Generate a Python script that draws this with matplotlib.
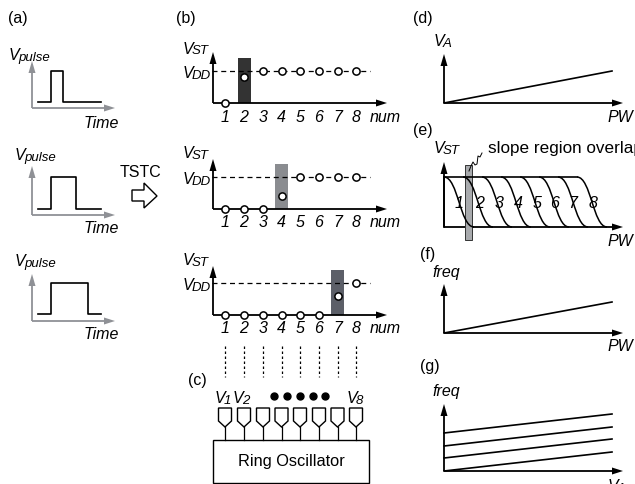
import matplotlib
matplotlib.use('Agg')
import matplotlib.pyplot as plt
from matplotlib.patches import Polygon, Rectangle, PathPatch
from matplotlib.path import Path

plt.rcParams['font.family'] = ['Liberation Sans', 'DejaVu Sans']

# (a) pulses, all in pixel coordinates of the picture
pulse_fall = [63, 76, 88]
pulse_top = [72, 178, 284]
pulse_base = [103, 210, 315]
pulse_axis_y = [109, 216, 322]
pulse_axis_tip = [62, 167, 275]
pulse_label_pos = [(9, 56), (15, 156), (15, 262)]
time_label_y = [123, 229, 335]

# (b) state plots
num_labels = ['1', '2', '3', '4', '5', '6', '7', '8']
num_x = [225, 244, 263, 281.5, 300, 319, 337.5, 356]
st_base = [104, 210, 316]
st_vdd = [72, 178, 284]
st_tip = [53, 160, 267]
st_label_y = [49, 154, 261]
st_active = [1, 3, 6]
st_bar_top = [59, 165, 271]
st_bar_color = ['#333333', '#8a8c90', '#5c5f68']
st_active_y = [78, 197, 297]

# (c)
dots_x = [274, 287, 300, 313, 325]

# (d) (f) (g) lines
line_d = [(444, 104), (612, 72)]
line_f = [(444, 334), (612, 303)]
g_start = [472, 459, 447, 434]
g_end = [453, 440, 428, 415]

# (e) curves
curve_start = [444, 463, 482, 501, 520, 539, 558, 577]
curve_num_x = [459, 480, 499, 518, 537, 555, 573, 593]
squiggle_x = [469, 471, 473, 475, 477, 478, 480, 482]
squiggle_y = [172, 167, 163, 166, 165, 157, 158, 154]

fig = plt.figure(figsize=(6.35, 4.85), dpi=100)
ax = fig.add_axes([0, 0, 1, 1])
ax.set_xlim(0, 635)
ax.set_ylim(485, 0)
ax.axis('off')


def arrow_axes(x0, y0, xtip, ytip, color='k'):
    ax.plot([x0, x0], [y0, ytip + 6], color=color, lw=1.3, solid_capstyle='butt')
    ax.plot([x0, xtip - 8], [y0, y0], color=color, lw=1.3, solid_capstyle='butt')
    ax.add_patch(Polygon([(x0 - 3.5, ytip + 12), (x0, ytip), (x0 + 3.5, ytip + 12)], fc=color, ec='none'))
    ax.add_patch(Polygon([(xtip - 11, y0 - 3.5), (xtip, y0), (xtip - 11, y0 + 3.5)], fc=color, ec='none'))


def sub_label(x, y, main, sub, gap):
    ax.text(x, y, main, style='italic', fontsize=11.5, va='center', ha='left')
    ax.text(x + gap, y + 2, sub, style='italic', fontsize=9.5, va='center', ha='left')


for name, x, y in [('(a)', 8, 18), ('(b)', 176, 18), ('(d)', 413, 18), ('(e)', 413, 131),
                   ('(f)', 420, 255), ('(g)', 420, 367), ('(c)', 188, 381)]:
    ax.text(x, y, name, fontsize=11.5, va='center', ha='left')

# (a)
for i in range(3):
    arrow_axes(32, pulse_axis_y[i], 115, pulse_axis_tip[i], color='#8f9196')
    ax.plot([38, 51, 51, pulse_fall[i], pulse_fall[i], 101],
            [pulse_base[i], pulse_base[i], pulse_top[i], pulse_top[i], pulse_base[i], pulse_base[i]],
            color='k', lw=1.2)
    sub_label(pulse_label_pos[i][0], pulse_label_pos[i][1], 'V', 'pulse', 9)
    ax.text(84, time_label_y[i], 'Time', style='italic', fontsize=11.5, va='center', ha='left')

ax.text(141, 173, 'TSTC', fontsize=11.5, va='center', ha='center')
ax.add_patch(Polygon([(132, 191), (144, 191), (144, 184), (157, 197), (144, 209), (144, 202), (132, 202)],
                     fc='white', ec='k', lw=1))

# (b)
for i in range(3):
    active = st_active[i]
    bar_x = num_x[active]
    ax.add_patch(Rectangle((bar_x - 6.5, st_bar_top[i]), 13, st_base[i] - st_bar_top[i],
                           fc=st_bar_color[i], ec='none', zorder=1))
    ax.plot([212, 370], [st_vdd[i], st_vdd[i]], color='k', lw=0.9, dashes=(4, 3), zorder=2)
    arrow_axes(213, st_base[i], 387, st_tip[i])
    for j in range(8):
        if j < active:
            y = st_base[i]
        elif j == active:
            y = st_active_y[i]
        else:
            y = st_vdd[i]
        ax.plot(num_x[j], y, 'o', ms=5.2, mfc='white', mec='k', mew=1.1, zorder=4)
        ax.text(num_x[j], st_base[i] + 13, num_labels[j], style='italic', fontsize=11.5,
                va='center', ha='center')
    ax.text(370, st_base[i] + 13, 'num', style='italic', fontsize=11.5, va='center', ha='left')
    sub_label(183, st_label_y[i], 'V', 'ST', 9)
    sub_label(183, st_vdd[i] + 2, 'V', 'DD', 9)

# (c)
for x in num_x:
    ax.plot([x, x], [347, 378], color='k', lw=0.9, dashes=(2, 2))
    ax.add_patch(Polygon([(x - 6.5, 409), (x + 6.5, 409), (x + 6.5, 422), (x, 428), (x - 6.5, 422)],
                         fc='white', ec='k', lw=1))
    ax.plot([x, x], [428, 441], color='k', lw=0.9)
ax.add_patch(Rectangle((213, 441), 156, 43, fc='white', ec='k', lw=1))
ax.text(291, 462, 'Ring Oscillator', fontsize=11.8, va='center', ha='center')
sub_label(215, 399, 'V', '1', 9)
sub_label(233, 399, 'V', '2', 9)
sub_label(347, 399, 'V', '8', 9)
ax.plot(dots_x, [397] * len(dots_x), 'o', ms=5, color='k', ls='none')

# (d)
arrow_axes(444, 104, 623, 55)
ax.plot(*zip(*line_d), color='k', lw=1.2)
sub_label(434, 42, 'V', 'A', 9)
ax.text(607, 117, 'PW', style='italic', fontsize=11.5, va='center', ha='left')

# (e)
ax.add_patch(Rectangle((465, 166), 7, 75, fc='#a8aaad', ec='#333333', lw=0.7, zorder=3))
ax.plot([444, curve_start[-1]], [178, 178], color='k', lw=1.2, zorder=4)
for i, x0 in enumerate(curve_start):
    curve = Path([(x0, 178), (x0 + 14, 178), (x0 + 16, 228), (x0 + 30, 228)],
                 [Path.MOVETO, Path.CURVE4, Path.CURVE4, Path.CURVE4])
    ax.add_patch(PathPatch(curve, fc='none', ec='k', lw=1.1, zorder=4))
    ax.text(curve_num_x[i], 204, num_labels[i], style='italic', fontsize=11.5, va='center', ha='center', zorder=5)
arrow_axes(444, 228, 623, 163)
ax.plot([444, 444], [178, 228], color='k', lw=1.3)
ax.plot(squiggle_x, squiggle_y, color='k', lw=0.7, zorder=5)
sub_label(434, 149, 'V', 'ST', 9)
ax.text(488, 149, 'slope region overlap', fontsize=12.3, va='center', ha='left')
ax.text(607, 242, 'PW', style='italic', fontsize=11.5, va='center', ha='left')

# (f)
arrow_axes(444, 334, 623, 285)
ax.plot(*zip(*line_f), color='k', lw=1.2)
ax.text(432, 273, 'freq', style='italic', fontsize=11.5, va='center', ha='left')
ax.text(607, 347, 'PW', style='italic', fontsize=11.5, va='center', ha='left')

# (g)
arrow_axes(444, 472, 623, 405)
for y0, y1 in zip(g_start, g_end):
    ax.plot([444, 612], [y0, y1], color='k', lw=1.2)
ax.text(432, 392, 'freq', style='italic', fontsize=11.5, va='center', ha='left')
sub_label(608, 487, 'V', 'A', 9)

fig.savefig('out.png', dpi=100)
